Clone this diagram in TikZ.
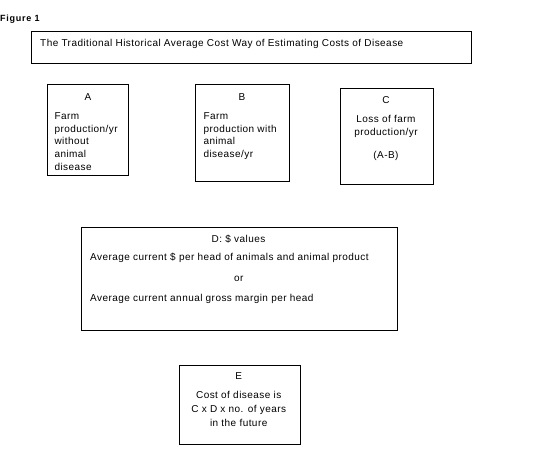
\documentclass[tikz,border=0pt]{standalone}
\usepackage{fontspec}
\setmainfont{Liberation Sans}
\begin{document}
\begin{tikzpicture}[x=1pt,y=-1pt,
  box/.style={draw=black,line width=0.8pt},
  txt/.style={inner sep=0pt,font=\fontsize{10}{12}\selectfont\addfontfeature{LetterSpace=4.5}},
  tl/.style={txt,anchor=base west},
  tc/.style={txt,anchor=base}]
\useasboundingbox (0,0) rectangle (543,476);
% figure label
\node[inner sep=0pt,anchor=base west,font=\bfseries\fontsize{9}{11}\selectfont\addfontfeature{LetterSpace=8}] (fig) at (0,21.5) {Figure 1};
% title box
\draw[box] (31,31) rectangle (471,63);
\node[tl] (title) at (40,46.8) {The Traditional Historical Average Cost Way of Estimating Costs of Disease};
% A
\draw[box] (47.3,84) rectangle (128.7,175.3);
\node[tc] (aL) at (88,100.3) {A};
\node[tl] (a1) at (54.3,119.4) {Farm};
\node[tl] (a2) at (54.3,132) {production/yr};
\node[tl] (a3) at (54.3,144.7) {without};
\node[tl] (a4) at (54.3,157.4) {animal};
\node[tl] (a5) at (54.3,170.2) {disease};
% B
\draw[box] (195.3,84) rectangle (289,181.7);
\node[tc] (bL) at (242,100.3) {B};
\node[tl] (b1) at (203.3,119.4) {Farm};
\node[tl] (b2) at (203.3,132) {production with};
\node[tl] (b3) at (203.3,144.7) {animal};
\node[tl] (b4) at (203.3,157.4) {disease/yr};
% C
\draw[box] (340,88.3) rectangle (433.7,184.3);
\node[tc] (cL) at (386,103.7) {C};
\node[tc] (c1) at (386,122.7) {Loss of farm};
\node[tc] (c2) at (386,135.4) {production/yr};
\node[tc] (c3) at (386,158.7) {(A-B)};
% D
\draw[box] (81.3,227.3) rectangle (397.3,330);
\node[tc] (dL) at (238.5,242) {D: \$ values};
\node[tl] (d1) at (90,260.4) {Average current \$ per head of animals and animal product};
\node[tc] (d2) at (238.7,281) {or};
\node[tl] (d3) at (90,301) {Average current annual gross margin per head};
% E
\draw[box] (179.3,365.3) rectangle (300.3,444);
\node[tc] (eL) at (238.7,379.7) {E};
\node[tc] (e1) at (238.7,398.4) {Cost of disease is};
\node[tc] (e2) at (238.7,412.4) {C x D x no. of years};
\node[tc] (e3) at (238.7,426.4) {in the future};
\end{tikzpicture}
\end{document}
